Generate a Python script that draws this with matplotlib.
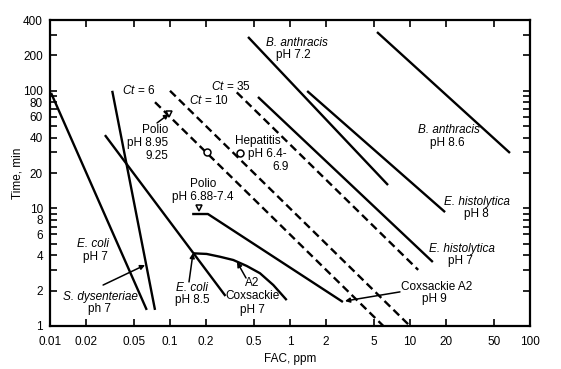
import matplotlib
matplotlib.use("Agg")
import matplotlib.pyplot as plt
from matplotlib import ticker

plt.rcParams['font.family'] = ['Liberation Sans', 'DejaVu Sans']
plt.rcParams['mathtext.fontset'] = 'custom'
plt.rcParams['mathtext.it'] = 'Liberation Sans:italic'
plt.rcParams['mathtext.rm'] = 'Liberation Sans'

# FAC (ppm) / time (min)
ecoli7_fac = [0.0102, 0.064]
ecoli7_time = [96, 1.37]
sdys_fac = [0.033, 0.075]
sdys_time = [100, 1.37]
ecoli85_fac = [0.0287, 0.29]
ecoli85_time = [42, 1.8]
cox7_fac = [0.156, 0.202, 0.261, 0.337, 0.436, 0.562, 0.726, 0.939]
cox7_time = [4.15, 4.1, 3.88, 3.64, 3.24, 2.81, 2.23, 1.66]
cox9_fac = [0.153, 0.207, 2.76]
cox9_time = [8.96, 8.96, 1.6]
banth72_fac = [0.447, 6.56]
banth72_time = [287, 15.8]
ehist8_fac = [1.39, 19.6]
ehist8_time = [99.6, 9.3]
ehist7_fac = [0.541, 15.5]
ehist7_time = [88.6, 3.5]
banth86_fac = [5.31, 68.1]
banth86_time = [316, 29.6]

# constant Ct lines (dashed)
ct6_fac = [0.075, 6.0]
ct6_time = [80, 1.0]
ct10_fac = [0.1, 10.0]
ct10_time = [100, 1.0]
ct35_fac = [0.36, 11.7]
ct35_time = [97, 3.0]

# virus points
tri_fac = [0.098, 0.1745]
tri_time = [63.5, 10.1]
circ_fac = [0.203, 0.383]
circ_time = [30.2, 29.6]

xtick_vals = [0.01, 0.02, 0.05, 0.1, 0.2, 0.5, 1, 2, 5, 10, 20, 50, 100]
xtick_labels = ['0.01', '0.02', '0.05', '0.1', '0.2', '0.5', '1', '2', '5', '10', '20', '50', '100']
ytick_vals = [1, 2, 3, 4, 5, 6, 7, 8, 9, 10, 20, 30, 40, 50, 60, 70, 80, 90, 100, 200, 300, 400]
ytick_shown = [1, 2, 4, 6, 8, 10, 20, 40, 60, 80, 100, 200, 400]

fig = plt.figure(figsize=(5.61, 3.69), dpi=100)
ax = fig.add_axes([50 / 561, 1 - 326 / 369, 480 / 561, 306 / 369])
ax.set_xscale('log')
ax.set_yscale('log')
ax.set_xlim(0.01, 100)
ax.set_ylim(1, 400)

lw = 1.7
solid = [(ecoli7_fac, ecoli7_time), (sdys_fac, sdys_time), (ecoli85_fac, ecoli85_time),
         (cox7_fac, cox7_time), (cox9_fac, cox9_time), (banth72_fac, banth72_time),
         (ehist8_fac, ehist8_time), (ehist7_fac, ehist7_time), (banth86_fac, banth86_time)]
for f, t in solid:
    ax.plot(f, t, color='black', lw=lw, solid_capstyle='butt')
for f, t in [(ct6_fac, ct6_time), (ct10_fac, ct10_time), (ct35_fac, ct35_time)]:
    ax.plot(f, t, color='black', lw=lw, ls=(0, (3.4, 1.9)), dash_capstyle='butt')

ax.plot(tri_fac, tri_time, 'v', ms=5, mfc='white', mec='black', mew=1.1, ls='none')
ax.plot(circ_fac, circ_time, 'o', ms=5, mfc='white', mec='black', mew=1.1, ls='none')

# ticks
ax.xaxis.set_major_locator(ticker.FixedLocator(xtick_vals))
ax.xaxis.set_major_formatter(ticker.FixedFormatter(xtick_labels))
ax.xaxis.set_minor_locator(ticker.FixedLocator([0.1, 1, 10]))
ax.xaxis.set_minor_formatter(ticker.NullFormatter())
ax.yaxis.set_major_locator(ticker.FixedLocator(ytick_vals))
ax.yaxis.set_major_formatter(ticker.FixedFormatter(
    [str(v) if v in ytick_shown else '' for v in ytick_vals]))
ax.yaxis.set_minor_locator(ticker.FixedLocator([10, 100]))
ax.yaxis.set_minor_formatter(ticker.NullFormatter())
ax.tick_params(which='major', direction='in', length=5, width=1.2,
               top=True, right=True, labelsize=8.5, pad=5)
ax.tick_params(axis='x', which='major', pad=7)
ax.tick_params(which='minor', direction='in', length=12, width=1.2, top=True, right=True)
for s in ax.spines.values():
    s.set_linewidth(1.6)

ax.set_xlabel('FAC, ppm', fontsize=8.5, labelpad=4)
ax.set_ylabel('Time, min', fontsize=8.5, labelpad=0)


def pos(x, y):
    return ((x - 50) / 480, (326 - y) / 306)


def label(x, y, s, **kw):
    ax.text(*pos(x, y), s, transform=ax.transAxes, fontsize=8.5,
            ha=kw.pop('ha', 'center'), va='center', **kw)


label(139, 91, '$Ct$ = 6')
label(209, 101, '$Ct$ = 10')
label(231, 86, '$Ct$ = 35')
label(168, 143, 'Polio\npH 8.95\n9.25', ha='right', multialignment='right', linespacing=1.15)
label(258, 141, 'Hepatitis')
label(248, 154, 'pH 6.4-', ha='left')
label(281, 167, '6.9')
label(203, 184, 'Polio')
label(203, 197, 'pH 6.88-7.4')
label(93, 244, 'E. coli', style='italic')
label(95, 257, 'pH 7')
label(100, 297, 'S. dysenteriae', style='italic')
label(100, 309, 'ph 7')
label(192, 288, 'E. coli', style='italic')
label(192, 300, 'pH 8.5')
label(252, 283, 'A2')
label(253, 296, 'Coxsackie')
label(252, 310, 'pH 7')
label(437, 287, 'Coxsackie A2')
label(434, 299, 'pH 9')
label(477, 202, 'E. histolytica', style='italic')
label(476, 214, 'pH 8')
label(462, 249, 'E. histolytica', style='italic')
label(460, 261, 'pH 7')
label(297, 43, 'B. anthracis', style='italic')
label(293, 55, 'pH 7.2')
label(449, 130, 'B. anthracis', style='italic')
label(447, 143, 'pH 8.6')

arrow = dict(arrowstyle='-|>', lw=1.1, color='black', mutation_scale=7, shrinkA=0, shrinkB=0)
ax.annotate('', xy=(0.098, 63.5), xytext=(0.078, 53.3), arrowprops=arrow)
ax.annotate('', xy=(0.062, 3.3), xytext=(0.0277, 2.23), arrowprops=arrow)
ax.annotate('', xy=(0.1555, 4.17), xytext=(0.144, 2.37), arrowprops=arrow)
ax.annotate('', xy=(0.362, 3.5), xytext=(0.43, 2.56), arrowprops=arrow)
ax.annotate('', xy=(2.87, 1.63), xytext=(8.25, 1.95), arrowprops=arrow)

fig.savefig('out.png', dpi=100)
